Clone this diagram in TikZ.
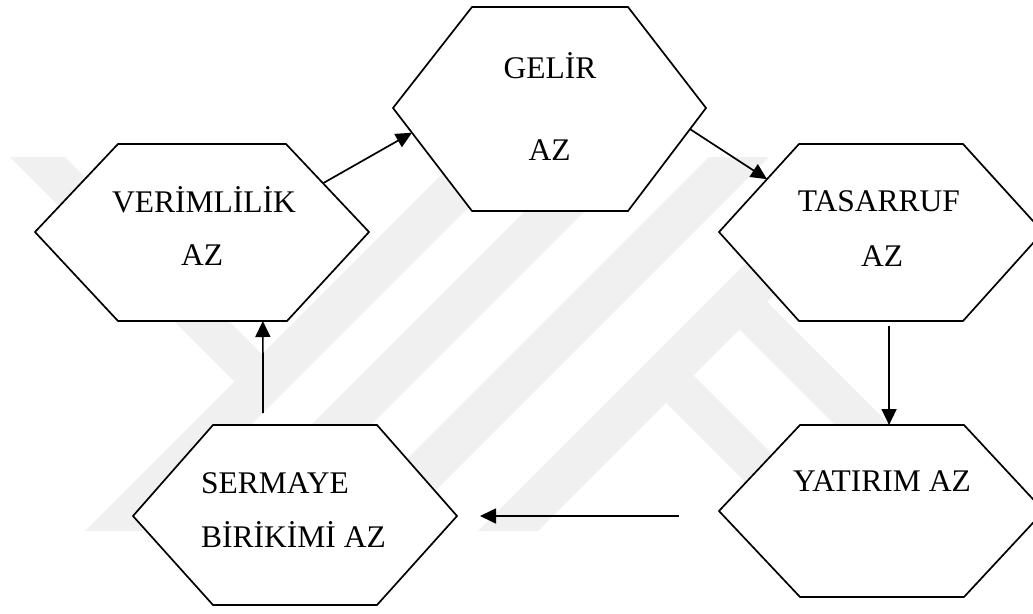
\documentclass[tikz,border=0pt]{standalone}
\usepackage{fontspec}
\setmainfont{Liberation Serif}
\usetikzlibrary{calc,arrows.meta}
\begin{document}
\begin{tikzpicture}[x=1pt,y=-1pt,
  hexagon/.style={draw=black,fill=white,line width=1.7pt,line join=miter},
  hextext/.style={font=\fontsize{31.5}{37}\selectfont,inner sep=0pt,anchor=base},
  flow/.style={draw=black,line width=1.7pt,-{Triangle[length=16pt,width=15pt]}},
  wmband/.style={fill=black!6,draw=none}]
\useasboundingbox (0,0) rectangle (1033,613);
\clip (0,0) rectangle (1033,613);

% faint background emblem
\begin{scope}
  \clip (0,157) rectangle (1033,531);
  \fill[wmband] (10,157) -- (65,157) -- (262,354) -- (234.5,381.5) -- cycle;
  \fill[wmband] (85,531) -- (145,531) -- (519,157) -- (459,157) -- cycle;
  \fill[wmband] (205,531) -- (265,531) -- (639,157) -- (579,157) -- cycle;
  \fill[wmband] (335,531) -- (395,531) -- (769,157) -- (709,157) -- cycle;
  \fill[wmband] (478,531) -- (538,531) -- (912,157) -- (852,157) -- cycle;
  \fill[wmband] (767,302) -- (996,531) -- (941,531) -- (739.5,329.5) -- cycle;
  \fill[wmband] (693.5,375.5) -- (849,531) -- (794,531) -- (666,403) -- cycle;
\end{scope}

% hexagon corners
\coordinate (verL) at (35,232);   \coordinate (verTL) at (118,144);
\coordinate (verTR) at (286,144); \coordinate (verR) at (369,232);
\coordinate (verBR) at (287,321); \coordinate (verBL) at (118,321);

\coordinate (gelL) at (393,108);  \coordinate (gelTL) at (472,7);
\coordinate (gelTR) at (628,7);   \coordinate (gelR) at (706,108);
\coordinate (gelBR) at (628,211); \coordinate (gelBL) at (472,211);

\coordinate (tasL) at (719,232);  \coordinate (tasTL) at (799,144);
\coordinate (tasTR) at (963,144); \coordinate (tasR) at (1043,232);
\coordinate (tasBR) at (963,321); \coordinate (tasBL) at (799,321);

\coordinate (yatL) at (719,511);  \coordinate (yatTL) at (800,425);
\coordinate (yatTR) at (964,425); \coordinate (yatR) at (1044,511);
\coordinate (yatBR) at (964,597); \coordinate (yatBL) at (800,597);

\coordinate (serL) at (133,516);  \coordinate (serTL) at (213,425);
\coordinate (serTR) at (377,425); \coordinate (serR) at (457,516);
\coordinate (serBR) at (377,605); \coordinate (serBL) at (213,605);

% hexagons
\path[hexagon] (verL) -- (verTL) -- (verTR) -- (verR) -- (verBR) -- (verBL) -- cycle;
\path[hexagon] (gelL) -- (gelTL) -- (gelTR) -- (gelR) -- (gelBR) -- (gelBL) -- cycle;
\path[hexagon] (tasL) -- (tasTL) -- (tasTR) -- (tasR) -- (tasBR) -- (tasBL) -- cycle;
\path[hexagon] (yatL) -- (yatTL) -- (yatTR) -- (yatR) -- (yatBR) -- (yatBL) -- cycle;
\path[hexagon] (serL) -- (serTL) -- (serTR) -- (serR) -- (serBR) -- (serBL) -- cycle;

% labels
\node[hextext] (verA) at (204,212) {VERİMLİLİK};
\node[hextext] (verB) at (202,265) {AZ};
\node[hextext] (gelA) at (550,78) {GELİR};
\node[hextext] (gelB) at (549.5,160) {AZ};
\node[hextext] (tasA) at (879,211) {TASARRUF};
\node[hextext] (tasB) at (882,266) {AZ};
\node[hextext] (yatA) at (882,491) {YATIRIM AZ};
\node[hextext,anchor=base west] (serA) at (201,493) {SERMAYE};
\node[hextext,anchor=base west] (serB) at (201,547) {BİRİKİMİ AZ};

% connector ends on the hexagon edges
\coordinate (a1s) at ($(verTR)!0.446!(verR)$);
\coordinate (a1e) at ($(gelL)!0.24!(gelBL)$);
\coordinate (a2s) at ($(gelR)!0.205!(gelBR)$);
\coordinate (a2e) at ($(tasTL)!0.4!(tasL)$);
\coordinate (a3s) at ($(tasBL)!0.549!(tasBR)+(0,5)$);
\coordinate (a3e) at ($(yatTL)!0.543!(yatTR)$);
\coordinate (a4s) at ($(yatL)+(-40,5)$);
\coordinate (a4e) at ($(serR)+(23,0)$);
\coordinate (a5s) at ($(serTL)!0.305!(serTR)+(0,-12)$);
\coordinate (a5e) at ($(verBL)!0.857!(verBR)$);

% cycle of arrows
\draw[flow] (a1s) -- (a1e);
\draw[flow] (a2s) -- (a2e);
\draw[flow] (a3s) -- (a3e);
\draw[flow] (a4s) -- (a4e);
\draw[flow] (a5s) -- (a5e);
\end{tikzpicture}
\end{document}
